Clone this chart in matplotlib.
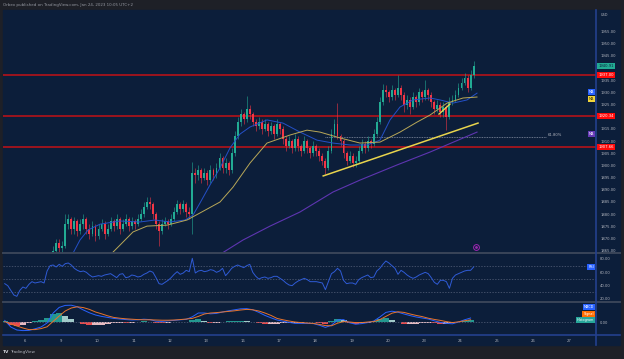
import matplotlib
matplotlib.use("Agg")
import matplotlib.pyplot as plt
import numpy as np
from matplotlib.lines import Line2D
from matplotlib.patches import Rectangle

W, H = 624, 359

# ---- data (XAUUSD, 2h bars) ----
day_labels = ['6', '9', '10', '11', '12', '13', '16', '17', '18', '19',
              '20', '23', '24', '25', '26', '27']

first_open = 1839
closes = [1838, 1836, 1834, 1833, 1835, 1834, 1836, 1838, 1837, 1836,
          1835, 1834, 1836, 1840, 1852, 1858, 1865, 1868, 1866, 1867,
          1876, 1878, 1874, 1877, 1873, 1876, 1878, 1874, 1872, 1875,
          1871, 1874, 1876, 1872, 1874, 1877, 1875, 1878, 1874, 1876,
          1878, 1875, 1877, 1876, 1878, 1880, 1883, 1885, 1884, 1880,
          1876, 1873, 1876, 1877, 1876, 1878, 1881, 1884, 1882, 1884,
          1881, 1880, 1897, 1896, 1898, 1895, 1897, 1894, 1898, 1896,
          1899, 1903, 1899, 1901, 1898, 1905, 1912, 1918, 1921, 1919,
          1923, 1921, 1918, 1916, 1918, 1915, 1917, 1914, 1916, 1913,
          1917, 1915, 1911, 1908, 1910, 1907, 1911, 1908, 1906, 1910,
          1907, 1905, 1908, 1906, 1904, 1902, 1899, 1906, 1913, 1917,
          1912, 1910, 1905, 1902, 1904, 1901, 1902, 1906, 1909, 1907,
          1910, 1909, 1913, 1918, 1926, 1931, 1930, 1928, 1931, 1929,
          1932, 1929, 1925, 1927, 1924, 1928, 1926, 1930, 1928, 1931,
          1929, 1926, 1923, 1925, 1922, 1924, 1920, 1926, 1927, 1929,
          1932, 1934, 1936, 1932, 1937, 1940.91]
highs = [1841, 1839, 1837, 1836, 1837, 1836, 1838, 1840, 1839, 1838,
         1838, 1836, 1838, 1842, 1855, 1860, 1867, 1870, 1870, 1869,
         1880, 1880, 1879, 1879, 1878, 1878, 1880, 1879, 1876, 1877,
         1876, 1876, 1878, 1877, 1876, 1879, 1878, 1880, 1879, 1878,
         1880, 1879, 1879, 1878, 1880, 1882, 1885, 1887, 1887, 1885,
         1881, 1877, 1878, 1879, 1878, 1880, 1883, 1886, 1885, 1886,
         1885, 1883, 1901.5, 1899, 1900, 1899, 1899, 1898, 1900, 1899,
         1901, 1905, 1904, 1903, 1902, 1907, 1914, 1920, 1923, 1922,
         1928.5, 1925, 1922, 1919, 1920, 1919, 1919, 1918, 1918, 1917,
         1919, 1918, 1916, 1912, 1912, 1911, 1913, 1912, 1909, 1912,
         1911, 1908, 1910, 1909, 1907, 1905, 1903, 1908, 1915, 1919,
         1925.5, 1913, 1911, 1906, 1906, 1905, 1904, 1908, 1911, 1910,
         1912, 1911, 1915, 1920, 1928, 1933.5, 1933, 1931, 1933, 1932,
         1937, 1933, 1930, 1929, 1928, 1930, 1929, 1932, 1931, 1935,
         1932, 1930, 1927, 1927, 1926, 1926, 1925, 1928, 1929, 1931,
         1934, 1936, 1938, 1937, 1939, 1943]
lows = [1836, 1834, 1832, 1831, 1832, 1832, 1833, 1835, 1835, 1834,
        1833, 1832, 1833, 1835, 1838, 1850, 1856, 1863, 1864, 1864,
        1866, 1874, 1872, 1872, 1871, 1872, 1874, 1872, 1870, 1871,
        1869, 1870, 1873, 1870, 1871, 1873, 1873, 1874, 1872, 1873,
        1875, 1873, 1874, 1874, 1875, 1877, 1879, 1882, 1882, 1878,
        1874, 1867, 1872, 1875, 1874, 1875, 1877, 1880, 1880, 1881,
        1879, 1878, 1872, 1893, 1894, 1893, 1894, 1892, 1893, 1894,
        1895, 1898, 1897, 1897, 1896, 1897, 1904, 1911, 1916, 1917,
        1918, 1919, 1916, 1914, 1915, 1913, 1914, 1912, 1913, 1911,
        1912, 1913, 1909, 1906, 1907, 1905, 1906, 1906, 1904, 1905,
        1905, 1903, 1904, 1904, 1902, 1900, 1896.5, 1898, 1905, 1912,
        1911, 1908, 1903, 1900, 1901, 1899.5, 1899.5, 1901, 1905, 1905,
        1906, 1907, 1908, 1912, 1917, 1925, 1928, 1926, 1927, 1927,
        1928, 1927, 1922, 1923, 1921, 1923, 1924, 1925, 1926, 1927,
        1927, 1924, 1921, 1922, 1920, 1920, 1914.5, 1919, 1925, 1926,
        1928, 1931, 1933, 1930, 1931, 1936]

rsi = [43, 40, 33, 26, 24, 33, 38, 36, 42, 46,
       44, 45, 46, 44, 62, 70, 71, 68, 72, 69,
       73, 74, 71, 66, 63, 61, 62, 60, 56, 53,
       54, 55, 54, 56, 57, 58, 55, 52, 57, 58,
       52, 53, 56, 55, 53, 54, 57, 59, 62, 60,
       52, 43, 42, 45, 48, 52, 57, 61, 57, 59,
       63, 61, 81, 59, 62, 63, 61, 62, 64, 63,
       60, 62, 66, 55, 60, 66, 69, 71, 69, 67,
       70, 72, 60, 54, 50, 52, 53, 51, 52, 54,
       54, 51, 48, 44, 41, 40, 44, 47, 49, 51,
       49, 46, 46, 46, 45, 44, 34, 46, 58, 61,
       66, 62, 48, 43, 44, 44, 42, 49, 52, 54,
       56, 52, 53, 62, 66, 72, 77, 74, 70, 66,
       57, 63, 60, 56, 53, 51, 53, 56, 58, 60,
       58, 52, 45, 42, 48, 48, 46, 36, 51, 56,
       58, 60, 62, 63, 63, 68]

# MACD / signal, one value every second bar
macd = [0.8, -2.5, -4.0, -4.3, -4.2, -3.4, -2.5, -0.5, 4.5, 7.3,
        8.3, 8.4, 7.6, 6.0, 4.6, 3.5, 2.8, 2.3, 1.8, 1.5,
        1.2, 1.0, 1.1, 1.4, 1.2, 0.4, 0.3, 0.6, 0.8, 1.1,
        1.3, 2.6, 4.5, 4.5, 4.1, 4.3, 5.0, 5.6, 6.1, 6.6,
        6.7, 6.1, 4.8, 3.3, 2.1, 1.0, 0.4, -0.2, -0.7, -0.7,
        -0.7, -0.8, -1.6, -2.7, -1.6, 1.0, 1.2, -0.4, -1.1, -0.8,
        -0.3, 0.5, 2.5, 4.8, 5.4, 4.9, 4.0, 3.2, 2.5, 2.0,
        1.5, 0.6, -0.2, -0.7, -0.9, 0.0, 1.1, 2.0]
signal = [0.2, -1.0, -2.0, -3.0, -3.8, -3.8, -3.3, -2.4, 0.3, 3.0,
          5.5, 7.0, 7.6, 7.2, 6.3, 5.0, 4.1, 3.1, 2.3, 1.9,
          1.6, 1.4, 1.2, 1.1, 1.1, 1.0, 0.9, 0.9, 1.0, 1.2,
          1.5, 1.8, 2.8, 4.0, 4.5, 4.7, 5.0, 5.3, 5.6, 6.0,
          6.3, 6.1, 5.5, 4.5, 3.3, 1.8, 1.1, 0.5, 0.0, -0.3,
          -0.5, -0.7, -1.2, -1.8, -1.9, -0.6, 0.2, 0.0, -0.3, -0.3,
          0.0, 0.2, 1.2, 2.8, 4.4, 5.1, 4.8, 4.0, 3.3, 2.7,
          1.9, 1.3, 0.8, 0.2, -0.3, 0.1, 0.6, 1.1]

# moving averages, (trading day, price) points
ma_fast_t = [1.248, 1.331, 1.523, 1.744, 2.074, 2.625, 3.176, 3.589, 4.003, 4.416,
             4.636, 4.829, 5.105, 5.380, 5.656, 5.931, 6.207, 6.675, 7.116, 7.584,
             8.052, 8.493, 8.961, 9.430, 9.788, 10.063, 10.339, 10.697, 11.165, 11.441,
             11.799, 12.185, 12.460]
ma_fast_p = [1862.0, 1864.0, 1869.4, 1873.5, 1875.9, 1877.2, 1876.8, 1877.6, 1876.8, 1877.6,
             1879.6, 1884.6, 1892.0, 1899.0, 1907.2, 1912.9, 1915.8, 1918.7, 1917.4, 1913.7,
             1910.4, 1909.2, 1908.4, 1908.4, 1910.4, 1918.7, 1924.0, 1926.9, 1927.7, 1926.9,
             1925.6, 1926.9, 1929.7]
ma_mid_t = [2.405, 2.625, 2.983, 3.369, 3.920, 4.471, 4.829, 5.380, 5.738, 6.207,
            6.675, 7.309, 7.777, 8.135, 8.686, 9.237, 9.788, 10.339, 10.807, 11.165,
            11.634, 12.074, 12.460]
ma_mid_p = [1864.0, 1867.3, 1872.7, 1875.1, 1875.5, 1877.6, 1880.5, 1885.0, 1891.1, 1901.0,
            1909.2, 1912.5, 1914.5, 1913.7, 1911.3, 1909.2, 1909.6, 1913.7, 1917.8, 1920.7,
            1925.6, 1927.7, 1928.1]
ma_slow_t = [5.435, 6.014, 6.758, 7.584, 8.493, 9.237, 10.256, 11.165, 12.460]
ma_slow_p = [1864.0, 1869.4, 1875.1, 1880.9, 1889.1, 1894.0, 1900.2, 1905.5, 1913.7]

levels = [1937.00, 1920.34, 1907.66]
last_price = 1940.91
fib_level = 1911.8
fib_span = [8.273, 14.36]
trend_t = [8.223, 12.488]
trend_p = [1895.7, 1917.4]
trend2_t = [11.413, 11.716]
trend2_p = [1921.1, 1925.2]
event_t, event_p = 12.433, 1866.5
price_ticks = [1865, 1870, 1875, 1880, 1885, 1890, 1895, 1900, 1905, 1910,
               1915, 1925, 1930, 1935, 1945, 1950, 1955]  # 1920/1940 sit under badges

# ---- style ----
OUTER = '#1e2027'
NAVY = '#0c1e3a'
SEP = '#3a4558'
BLUE_LINE = '#23408e'
TXT = '#b2b5be'
UP = '#22ab94'
DN = '#f23645'
LEVEL = '#a8141c'
FS = 2.7

BAR = 1 / 12
T0 = -0.55
t = T0 + np.arange(len(closes)) * BAR
t_macd = T0 + np.arange(len(macd)) * 2 * BAR

fig = plt.figure(figsize=(W / 100, H / 100), dpi=100, facecolor=OUTER)


def box(x0, y0, x1, y1):
    return [x0 / W, 1 - y1 / H, (x1 - x0) / W, (y1 - y0) / H]


def fig_line(xs, ys, **kw):
    fig.add_artist(Line2D([x / W for x in xs], [1 - y / H for y in ys],
                          transform=fig.transFigure, **kw))


fig.add_artist(Rectangle((3 / W, 1 - 345 / H), 617 / W, 335 / H,
                         transform=fig.transFigure, color=NAVY, zorder=0))

ax = fig.add_axes(box(3, 10, 596, 253))
ax_rsi = fig.add_axes(box(3, 253, 596, 302), sharex=ax)
ax_macd = fig.add_axes(box(3, 302, 596, 335), sharex=ax)

for a in (ax, ax_rsi, ax_macd):
    a.set_facecolor('none')
    for s in a.spines.values():
        s.set_visible(False)
    a.yaxis.tick_right()
    a.tick_params(axis='y', length=0, pad=3, labelsize=FS, labelcolor=TXT)
    a.tick_params(axis='x', length=0, labelbottom=False)

ax.set_xlim(-0.598, 15.738)

# ---- price pane ----
ax.set_ylim(1864.06, 1963.83)
ax.set_yticks(price_ticks)
ax.yaxis.set_major_formatter(matplotlib.ticker.FormatStrFormatter('%.2f'))

opens = np.array([first_open] + closes[:-1])
cl = np.array(closes)
col = np.where(cl >= opens, UP, DN)
ax.vlines(t, lows, highs, colors=col, lw=0.4, zorder=3)
body = np.where(np.abs(cl - opens) < 0.3, 0.3, cl - opens)
ax.bar(t, body, bottom=opens, width=0.052, color=col, lw=0, zorder=4)

for lv in levels:
    ax.axhline(lv, color=LEVEL, lw=1.3, zorder=2)

ax.plot(ma_fast_t, ma_fast_p, color='#2450c8', lw=0.7, zorder=5)
ax.plot(ma_mid_t, ma_mid_p, color='#b9a858', lw=0.7, zorder=5)
ax.plot(ma_slow_t, ma_slow_p, color='#5e35b1', lw=0.8, zorder=5)
ax.plot(trend_t, trend_p, color='#e8d44d', lw=1.1, zorder=6)
ax.plot(trend2_t, trend2_p, color='#e8d44d', lw=1.0, zorder=6)
ax.plot(fib_span, [fib_level, fib_level], color='#8a93a6', lw=0.6,
        ls=(0, (1, 1)), zorder=2)
ax.text(fib_span[1] + 0.05, fib_level + 0.6, '61.80%', color=TXT,
        fontsize=FS, va='center', ha='left')
ax.plot(event_t, event_p, marker='o', ms=4.2, mfc='none', mec='#9c27b0', mew=0.7)
ax.plot(event_t, event_p, marker='o', ms=1.0, color='#9c27b0')


def axis_badge(a, y, text, fc, tc='white'):
    a.text(1.004, y, text, transform=a.get_yaxis_transform(), ha='left',
           va='center', fontsize=FS, color=tc, zorder=10,
           bbox=dict(boxstyle='square,pad=0.3', fc=fc, ec='none'))


def pane_badge(a, y, text, fc, tc='white'):
    a.text(0.9965, y, text, transform=a.get_yaxis_transform(), ha='right',
           va='center', fontsize=FS - 0.3, color=tc, zorder=10,
           bbox=dict(boxstyle='square,pad=0.3', fc=fc, ec='none'))


axis_badge(ax, last_price, '%.2f' % last_price, UP, '#0c1e3a')
for lv in levels:
    axis_badge(ax, lv, '%.2f' % lv, '#ff0a0a')
pane_badge(ax, 1930.0, 'MA', '#2962ff')
pane_badge(ax, 1927.2, 'MA', '#f2d43a', '#3a3000')
pane_badge(ax, 1913.1, 'MA', '#673ab7')

# ---- RSI pane ----
ax_rsi.set_ylim(15.5, 89)
ax_rsi.set_yticks([20, 40, 60, 80])
ax_rsi.yaxis.set_major_formatter(matplotlib.ticker.FormatStrFormatter('%.2f'))
for lv in (70, 50, 30):
    ax_rsi.axhline(lv, color='#56617a', lw=0.5, ls=(0, (2, 2)))
ax_rsi.plot(t, rsi, color='#2f5bd6', lw=0.7)
pane_badge(ax_rsi, rsi[-1], 'RSI', '#2962ff')

# ---- MACD pane ----
ax_macd.set_ylim(-6.5, 10)
ax_macd.set_yticks([0])
ax_macd.yaxis.set_major_formatter(matplotlib.ticker.FormatStrFormatter('%.2f'))
ax_macd.axhline(0, color='#56617a', lw=0.5, ls=(0, (2, 2)))
hist = np.array(macd) - np.array(signal)
prev = np.concatenate([[0], hist[:-1]])
hcol = np.where(hist >= 0, np.where(hist >= prev, '#26a69a', '#b2dfdb'),
                np.where(hist < prev, '#ff5252', '#ffcdd2'))
ax_macd.bar(t_macd, hist, width=2 * BAR, color=hcol, lw=0, alpha=0.9)
ax_macd.plot(t_macd, macd, color='#2962ff', lw=0.7)
ax_macd.plot(t_macd, signal, color='#e8742c', lw=0.7)
pane_badge(ax_macd, 7.5, 'MACD', '#2962ff')
pane_badge(ax_macd, 4.0, 'Signal', '#ff6d00')
pane_badge(ax_macd, 0.8, 'Histogram', '#26a69a')

ax_macd.set_xticks(range(len(day_labels)))
ax_macd.set_xticklabels(day_labels)
ax_macd.tick_params(axis='x', length=0, pad=2.6, labelbottom=True,
                    labelsize=FS, labelcolor=TXT)

# ---- frame lines ----
fig_line([3, 620], [253.3, 253.3], color=SEP, lw=1.4)
fig_line([3, 620], [301.7, 301.7], color=SEP, lw=1.4)
fig_line([3, 620], [334.7, 334.7], color=BLUE_LINE, lw=1.2)
fig_line([595.7, 595.7], [10, 345], color=BLUE_LINE, lw=1.2)

fig.text(601 / W, 1 - 15.5 / H, 'USD', fontsize=FS - 0.2, color=TXT, va='center')
fig.text(3 / W, 1 - 5 / H, 'Orbex published on TradingView.com, Jan 24, 2023 10:05 UTC+2',
         fontsize=2.9, color='#9598a1', va='center')
fig.text(3 / W, 1 - 352 / H, 'TV', fontsize=3.2, color='#d1d4dc',
         fontweight='bold', va='center')
fig.text(10 / W, 1 - 352 / H, 'TradingView', fontsize=3.0, color='#b2b5be', va='center')

fig.savefig('out.png', dpi=100, facecolor=OUTER)
